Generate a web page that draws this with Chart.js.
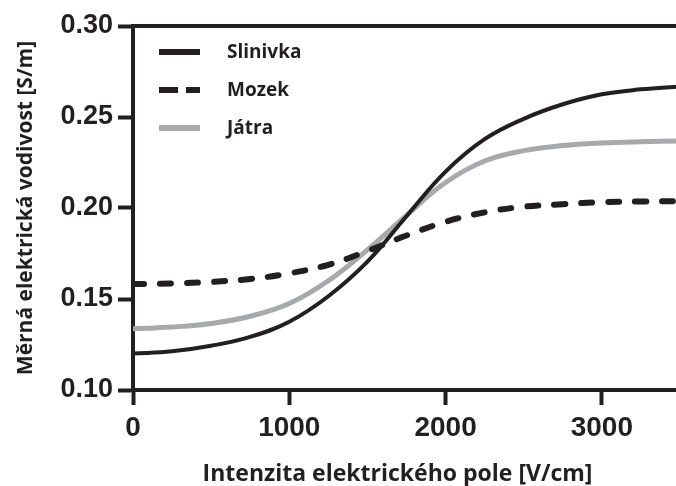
<!DOCTYPE html>
<html>
<head>
<meta charset="utf-8">
<script src="https://cdn.jsdelivr.net/npm/chart.js@4/dist/chart.umd.min.js"></script>
<style>
    html, body { margin: 0; padding: 0; background: #fff; overflow: hidden; }
    #wrap { width: 682px; height: 486px; }
</style>
</head>
<body>
<div id="wrap"><canvas id="chart" width="682" height="486"></canvas></div>
<script>
(function () {

    // Intenzita elektrického pole [V/cm]
    var fieldValues = [0, 250, 500, 750, 1000, 1250, 1500, 1750, 2000, 2250, 2500, 2750, 3000, 3250, 3500];

    // Měrná elektrická vodivost [S/m]
    var slinivka = [0.1200, 0.1213, 0.1243, 0.1292, 0.1375, 0.1515, 0.1705, 0.1955, 0.2200, 0.2378, 0.2490, 0.2570, 0.2625, 0.2652, 0.2668];
    var mozek    = [0.1582, 0.1586, 0.1594, 0.1610, 0.1641, 0.1688, 0.1764, 0.1849, 0.1924, 0.1976, 0.2007, 0.2021, 0.2032, 0.2036, 0.2038];
    var jatra    = [0.1337, 0.1346, 0.1365, 0.1405, 0.1475, 0.1600, 0.1770, 0.1960, 0.2140, 0.2258, 0.2315, 0.2343, 0.2357, 0.2364, 0.2368];

    var seriesNames = ["Slinivka", "Mozek", "Játra"];
    var xTicks = [0, 1000, 2000, 3000];
    var yTicks = [0.10, 0.15, 0.20, 0.25, 0.30];

    var INK = "#231f20";
    var GREY = "#a7a9ac";
    var LABEL_FONT = "'Open Sans', 'DejaVu Sans', sans-serif";
    var TICK_FONT = "'Liberation Sans', Arial, sans-serif";

    function points(values) {
        return fieldValues.map(function (x, i) { return { x: x, y: values[i] }; });
    }

    // legenda vlevo nahoře v ploše grafu
    var legendPlugin = {
        id: "insideLegend",
        afterDraw: function (chart) {
            var ctx = chart.ctx;
            var area = chart.chartArea;
            var x0 = area.left + 26, x1 = area.left + 67, tx = area.left + 94;
            var rows = [52, 90, 128];
            var styles = [
                { color: INK, dash: [] },
                { color: INK, dash: [19, 8] },
                { color: GREY, dash: [] }
            ];
            ctx.save();
            for (var i = 0; i < seriesNames.length; i++) {
                var y = rows[i];
                ctx.beginPath();
                ctx.lineWidth = 6;
                ctx.lineCap = "butt";
                ctx.strokeStyle = styles[i].color;
                ctx.setLineDash(styles[i].dash);
                ctx.moveTo(x0, y);
                ctx.lineTo(x1, y);
                ctx.stroke();
                ctx.setLineDash([]);
                ctx.fillStyle = INK;
                ctx.font = "bold 19px " + LABEL_FONT;
                ctx.textBaseline = "middle";
                ctx.textAlign = "left";
                ctx.fillText(seriesNames[i], tx, y + 1);
            }
            ctx.restore();
        }
    };

    var ctx = document.getElementById("chart");
    new Chart(ctx, {
        type: "line",
        data: {
            datasets: [
                {
                    label: seriesNames[0],
                    data: points(slinivka),
                    borderColor: INK,
                    borderWidth: 4
                },
                {
                    label: seriesNames[1],
                    data: points(mozek),
                    borderColor: INK,
                    borderWidth: 6,
                    borderDash: [11, 16],
                    borderCapStyle: "round"
                },
                {
                    label: seriesNames[2],
                    data: points(jatra),
                    borderColor: GREY,
                    borderWidth: 5
                }
            ]
        },
        plugins: [legendPlugin],
        options: {
            responsive: false,
            animation: false,
            events: [],
            layout: { padding: { left: 0, right: 2, top: 26, bottom: 0 } },
            elements: {
                point: { radius: 0 },
                line: { tension: 0.4, fill: false }
            },
            plugins: {
                legend: { display: false },
                tooltip: { enabled: false }
            },
            scales: {
                x: {
                    type: "linear",
                    position: "bottom",
                    min: 0,
                    max: 3500,
                    afterFit: function (scale) { scale.height = 96; },
                    afterBuildTicks: function (scale) {
                        scale.ticks = xTicks.map(function (v) { return { value: v }; });
                    },
                    border: { display: true, color: INK, width: 4 },
                    grid: {
                        drawOnChartArea: false,
                        drawTicks: true,
                        tickLength: 15,
                        tickWidth: 4,
                        tickColor: INK
                    },
                    ticks: {
                        padding: 6,
                        maxRotation: 0,
                        autoSkip: false,
                        color: INK,
                        font: { family: TICK_FONT, size: 28, weight: "bold" },
                        callback: function (v) { return String(v); }
                    },
                    title: {
                        display: true,
                        // mezery na konci posunou popisek trochu doleva jako v originale
                        text: "Intenzita elektrického pole [V/cm]\u00a0\u00a0\u00a0",
                        color: INK,
                        font: { family: LABEL_FONT, size: 23, weight: "bold", lineHeight: 1 },
                        padding: { top: 0, bottom: 0 }
                    }
                },
                xTop: {
                    type: "linear",
                    position: "top",
                    min: 0,
                    max: 3500,
                    afterFit: function (scale) { scale.height = 0; },
                    border: { display: true, color: INK, width: 4 },
                    grid: { display: false },
                    ticks: { display: false }
                },
                y: {
                    min: 0.10,
                    max: 0.30,
                    afterFit: function (scale) { scale.width = 133; },
                    afterBuildTicks: function (scale) {
                        scale.ticks = yTicks.map(function (v) { return { value: v }; });
                    },
                    border: { display: true, color: INK, width: 4 },
                    grid: {
                        drawOnChartArea: false,
                        drawTicks: true,
                        tickLength: 15,
                        tickWidth: 4,
                        tickColor: INK
                    },
                    ticks: {
                        padding: 5,
                        color: INK,
                        font: { family: TICK_FONT, size: 27, weight: "bold" },
                        callback: function (v) { return Number(v).toFixed(2); }
                    },
                    title: {
                        display: true,
                        text: "Měrná elektrická vodivost [S/m]",
                        color: INK,
                        font: { family: LABEL_FONT, size: 21, weight: "bold" },
                        padding: { top: 13, bottom: 0 }
                    }
                }
            }
        }
    });
})();
</script>
</body>
</html>
